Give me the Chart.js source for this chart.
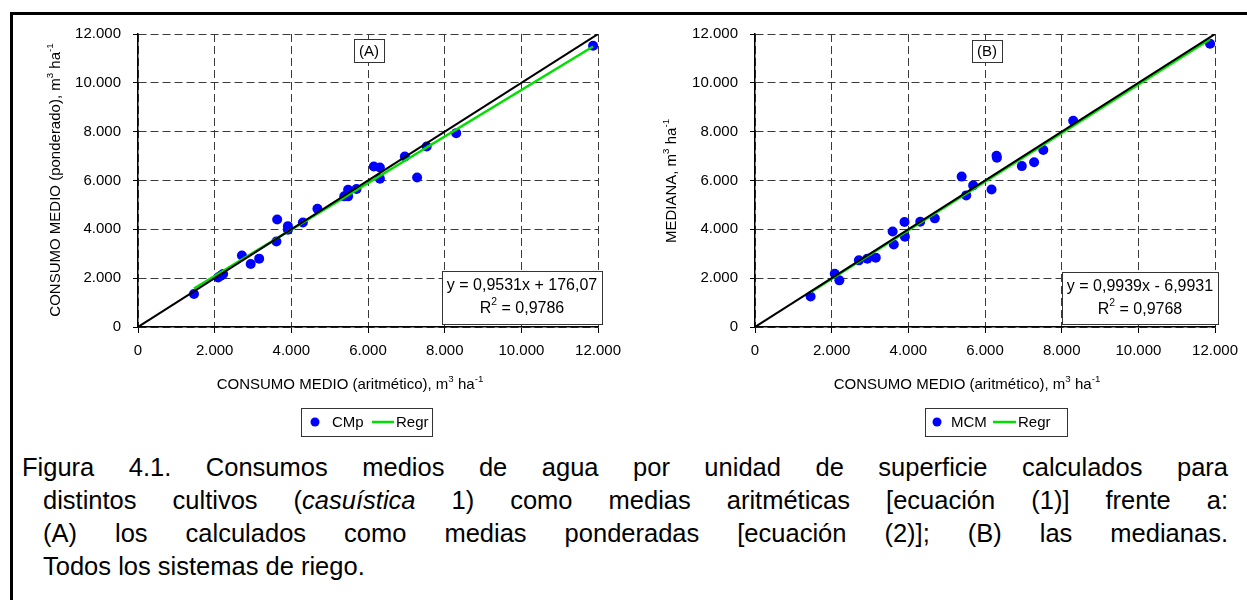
<!DOCTYPE html>
<html>
<head>
<meta charset="utf-8">
<script src="https://cdn.jsdelivr.net/npm/chart.js@4.4.1/dist/chart.umd.min.js"></script>
<style>
  html, body { margin: 0; padding: 0; background: #fff; overflow: hidden; }
  body { width: 1247px; height: 600px; position: relative; font-family: "Liberation Sans", Arial, sans-serif; }
  #frame { position: absolute; left: 10px; top: 12px; width: 1260px; height: 620px; border: 3px solid #000; }
  canvas { position: absolute; top: 0; }
  #chartA { left: 0; }
  #chartB { left: 630px; }
  .cap { position: absolute; font-size: 25.5px; line-height: 33px; color: #000; white-space: nowrap; }
  .just { text-align: justify; text-align-last: justify; white-space: normal; }
</style>
</head>
<body>
<div id="frame"></div>
<canvas id="chartA" width="630" height="450"></canvas>
<canvas id="chartB" width="617" height="450"></canvas>
<div class="cap just" style="left:22px; top:451px; width:1206px;">Figura 4.1. Consumos medios de agua por unidad de superficie calculados para</div>
<div class="cap just" style="left:43px; top:484px; width:1185px;">distintos cultivos (<i>casuística</i> 1) como medias aritméticas [ecuación (1)] frente a:</div>
<div class="cap just" style="left:43px; top:517px; width:1185px;">(A) los calculados como medias ponderadas [ecuación (2)]; (B) las medianas.</div>
<div class="cap" style="left:43px; top:550px;">Todos los sistemas de riego.</div>
<script>
// consumo medio aritmetico (x) vs ponderado (y), panel A
var cmpX = [1460, 2090, 2160, 2220, 2710, 2940, 3160, 3610, 3630, 3910, 3910, 4300, 4680,
            5380, 5480, 5480, 5700, 6150, 6310, 6310, 6960, 7280, 7530, 8300, 11870];
var cmpY = [1350, 2030, 2100, 2170, 2930, 2580, 2800, 3500, 4400, 4130, 3980, 4280, 4840,
            5350, 5620, 5350, 5650, 6570, 6530, 6070, 6980, 6120, 7390, 7940, 11520];
// panel B: medianas
var mcmX = [1450, 2080, 2200, 2710, 2930, 3150, 3590, 3620, 3900, 3910, 4310, 4690,
            5390, 5510, 5690, 6170, 6300, 6310, 6960, 7280, 7520, 8300, 11870];
var mcmY = [1250, 2180, 1910, 2730, 2800, 2840, 3910, 3380, 4300, 3700, 4310, 4450,
            6160, 5390, 5800, 5630, 7010, 6930, 6590, 6750, 7250, 8450, 11600];
// regression line ends
var regrAX = [1460, 11870];
var regrAY = [1570, 11490];
var regrBX = [1450, 11870];
var regrBY = [1430, 11790];
// 1:1 line
var diagX = [0, 12000];
var diagY = [0, 12000];
var axisMax = 12000;
var axisStep = 2000;

var FONT = '"Liberation Sans", Arial, sans-serif';

function pts(xs, ys) {
    return xs.map(function (x, i) { return {x: x, y: ys[i]}; });
}
function fmt(v) {
    return String(v).replace(/\B(?=(\d{3})+(?!\d))/g, '.');
}

// text with superscripts, centred on cx, cy
function supText(ctx, parts, cx, cy, size) {
    var w = 0;
    parts.forEach(function (p) {
        ctx.font = (p.sup ? size * 0.65 : size) + 'px ' + FONT;
        p.w = ctx.measureText(p.t).width;
        w += p.w;
    });
    var x = cx - w / 2;
    ctx.textAlign = 'left';
    ctx.textBaseline = 'middle';
    ctx.fillStyle = '#000';
    parts.forEach(function (p) {
        ctx.font = (p.sup ? size * 0.65 : size) + 'px ' + FONT;
        ctx.fillText(p.t, x, p.sup ? cy - size * 0.4 : cy);
        x += p.w;
    });
}

function boxRect(ctx, x1, y1, x2, y2) {
    ctx.save();
    ctx.fillStyle = '#fff';
    ctx.fillRect(x1, y1, x2 - x1, y2 - y1);
    ctx.strokeStyle = '#333';
    ctx.lineWidth = 1;
    ctx.strokeRect(x1 + 0.5, y1 + 0.5, x2 - x1, y2 - y1);
    ctx.restore();
}

var decor = {
    id: 'decor',
    afterDraw: function (chart) {
        var o = chart.options.plugins.decor;
        var ctx = chart.ctx;
        ctx.save();
        supText(ctx, o.xTitle, o.xT[0], o.xT[1], 15);
        ctx.save();
        ctx.translate(o.yT[0], o.yT[1]);
        ctx.rotate(-Math.PI / 2);
        supText(ctx, o.yTitle, 0, 0, 15);
        ctx.restore();

        // panel tag
        boxRect(ctx, o.tag[0], o.tag[1], o.tag[2], o.tag[3]);
        supText(ctx, [{t: o.tagText}], (o.tag[0] + o.tag[2]) / 2, (o.tag[1] + o.tag[3]) / 2 + 1, 15);

        // equation box
        var e = o.eq;
        boxRect(ctx, e[0], e[1], e[2], e[3]);
        var ex = (e[0] + e[2]) / 2;
        supText(ctx, [{t: o.eqText}], ex, e[1] + 15, 16);
        supText(ctx, [{t: 'R'}, {t: '2', sup: true}, {t: ' = ' + o.r2Text}], ex, e[1] + 38, 16);

        // legend
        var l = o.leg;
        boxRect(ctx, l[0], l[1], l[2], l[3]);
        var cy = (l[1] + l[3]) / 2;
        ctx.fillStyle = '#0000ff';
        ctx.beginPath();
        ctx.arc(l[0] + o.legX[0], cy, 4.5, 0, Math.PI * 2);
        ctx.fill();
        ctx.font = '15px ' + FONT;
        ctx.fillStyle = '#000';
        ctx.textAlign = 'left';
        ctx.textBaseline = 'middle';
        ctx.fillText(o.serName, l[0] + o.legX[1], cy + 1);
        ctx.strokeStyle = '#00e000';
        ctx.lineWidth = 2.5;
        ctx.beginPath();
        ctx.moveTo(l[0] + o.legX[2], cy);
        ctx.lineTo(l[0] + o.legX[3], cy);
        ctx.stroke();
        ctx.fillText('Regr', l[0] + o.legX[3] + 2, cy + 1);
        ctx.restore();
    }
};

function makeChart(id, pX, pY, rX, rY, deco, pad) {
    var scaleOpts = function (isY) {
        return {
            type: 'linear',
            min: 0,
            max: axisMax,
            ticks: {
                stepSize: axisStep,
                color: '#000',
                font: {family: FONT, size: 15},
                padding: isY ? 12 : 9,
                maxRotation: 0,
                callback: function (v) { return fmt(v); }
            },
            grid: {
                color: '#3a3a3a',
                lineWidth: 1,
                tickLength: isY ? 5 : 6,
                tickColor: '#000',
                tickBorderDash: []
            },
            border: {display: true, color: '#000', width: 1.5, dash: [8, 4]},
            afterFit: function (s) {
                if (isY) { s.width = 70; } else { s.height = 40; }
            }
        };
    };
    return new Chart(document.getElementById(id), {
        type: 'scatter',
        data: {
            datasets: [
                {
                    type: 'line',
                    data: pts(diagX, diagY),
                    borderColor: '#000',
                    borderWidth: 2,
                    pointRadius: 0,
                    fill: false
                },
                {
                    type: 'line',
                    data: pts(rX, rY),
                    borderColor: '#00e000',
                    borderWidth: 2.5,
                    pointRadius: 0,
                    fill: false
                },
                {
                    data: pts(pX, pY),
                    backgroundColor: '#0000ff',
                    borderWidth: 0,
                    pointRadius: 5
                }
            ]
        },
        options: {
            responsive: false,
            animation: false,
            devicePixelRatio: 1,
            layout: {padding: pad},
            scales: {x: scaleOpts(false), y: scaleOpts(true)},
            plugins: {
                legend: {display: false},
                tooltip: {enabled: false},
                decor: deco
            }
        },
        plugins: [decor]
    });
}

var xTitleParts = [{t: 'CONSUMO MEDIO (aritmético), m'}, {t: '3', sup: true}, {t: ' ha'}, {t: '-1', sup: true}];

makeChart('chartA', cmpX, cmpY, regrAX, regrAY, {
    xTitle: xTitleParts,
    yTitle: [{t: 'CONSUMO MEDIO (ponderado), m'}, {t: '3', sup: true}, {t: ' ha'}, {t: '-1', sup: true}],
    xT: [350, 385], yT: [56, 180],
    tag: [354, 39, 384, 62], tagText: '(A)',
    eq: [442, 271, 602, 324], eqText: 'y = 0,9531x + 176,07', r2Text: '0,9786',
    leg: [301, 408, 432, 436], legX: [14, 31, 71, 93], serName: 'CMp'
}, {top: 34, left: 68, right: 27, bottom: 83});

makeChart('chartB', mcmX, mcmY, regrBX, regrBY, {
    xTitle: xTitleParts,
    yTitle: [{t: 'MEDIANA, m'}, {t: '3', sup: true}, {t: ' ha'}, {t: '-1', sup: true}],
    xT: [337, 385], yT: [42, 181],
    tag: [342, 40, 372, 62], tagText: '(B)',
    eq: [432, 272, 588, 324], eqText: 'y = 0,9939x - 6,9931', r2Text: '0,9768',
    leg: [295, 408, 437, 436], legX: [12, 26, 68, 91], serName: 'MCM'
}, {top: 34, left: 55, right: 28, bottom: 83});
</script>
</body>
</html>
